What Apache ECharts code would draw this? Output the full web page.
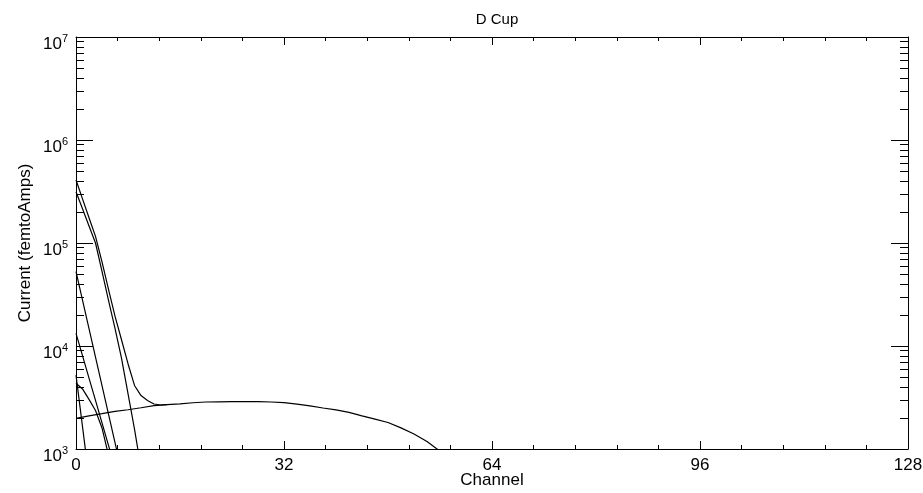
<!DOCTYPE html>
<html>
<head>
<meta charset="utf-8">
<script src="https://cdn.jsdelivr.net/npm/echarts@6/dist/echarts.min.js"></script>
<style>
  html, body { margin: 0; padding: 0; background: #fff; }
  #main { width: 923px; height: 493px; }
</style>
</head>
<body>
<div id="main"></div>
<script>
// x axis ticks
var channelTicks = [0, 32, 64, 96, 128];

// steep components, one value per channel starting at channel 0
var totalValues = [409000, 268000, 176000, 116000, 65600, 35400, 19500, 11500, 6730, 4140, 3300, 2960, 2735, 2673, 2692];
var mainValues = [315000, 215000, 146000, 100000, 53100, 27700, 14800, 7640, 3450, 1560, 650];
var secondValues = [52600, 27900, 14760, 7800, 4130, 2185, 1156, 611];
var thirdValues = [13280, 8050, 4880, 2960, 1792, 1086, 658];
var fourthValues = [4345, 3830, 3030, 2366, 1600, 870];
var fifthValues = [5220, 1647, 523];

// broad component, read every 2 channels
var broadChannels = [0, 2, 4, 6, 8, 10, 12, 14, 16, 18, 20, 22, 24, 26, 28, 30, 32, 34, 36, 38, 40, 42, 44, 46, 48, 50, 52, 54, 56];
var broadValues = [1987, 2095, 2203, 2323, 2404, 2514, 2638, 2692, 2748, 2812, 2860, 2873, 2878, 2878, 2878, 2860, 2818, 2723, 2624, 2500, 2399, 2265, 2096, 1950, 1807, 1603, 1399, 1180, 952];

var FONT = 'Liberation Sans';
var FONT_SIZE = 17;

// values are indexed by channel
function byChannel(values) {
    return values.map(function (v, i) { return [i, v]; });
}

function pairs(xs, ys) {
    return xs.map(function (x, i) { return [x, ys[i]]; });
}

function lineSeries(data) {
    return {
        type: 'line',
        data: data,
        showSymbol: false,
        symbol: 'none',
        clip: true,
        lineStyle: {color: '#000', width: 1.2},
        animation: false
    };
}

function xAxis(pos, showLabel) {
    return {
        type: 'value',
        position: pos,
        min: channelTicks[0],
        max: channelTicks[channelTicks.length - 1],
        interval: channelTicks[1] - channelTicks[0],
        name: showLabel ? 'Channel' : '',
        nameLocation: 'middle',
        nameGap: 23,
        nameMoveOverlap: false,
        nameTextStyle: {color: '#000', fontFamily: FONT, fontSize: FONT_SIZE},
        axisLine: {show: true, onZero: false, lineStyle: {color: '#000', width: 1}},
        axisTick: {show: true, inside: true, length: 8, lineStyle: {color: '#000'}},
        minorTick: {show: true, splitNumber: 5, length: 4, lineStyle: {color: '#000'}},
        axisLabel: {show: showLabel, color: '#000', fontFamily: FONT, fontSize: FONT_SIZE, margin: 8},
        splitLine: {show: false}
    };
}

function yAxis(pos, showLabel) {
    return {
        type: 'log',
        logBase: 10,
        position: pos,
        min: 1e3,
        max: 1e7,
        splitNumber: 4,
        name: showLabel ? 'Current (femtoAmps)' : '',
        nameLocation: 'middle',
        nameRotate: 90,
        nameGap: 42,
        nameMoveOverlap: false,
        nameTextStyle: {color: '#000', fontFamily: FONT, fontSize: FONT_SIZE},
        axisLine: {show: true, onZero: false, lineStyle: {color: '#000', width: 1}},
        axisTick: {show: true, inside: true, length: 17, lineStyle: {color: '#000'}},
        minorTick: {show: true, splitNumber: 9, length: 8, lineStyle: {color: '#000'}},
        axisLabel: {
            show: showLabel,
            margin: 8,
            padding: [12, 0, 0, 0],
            formatter: function (v) {
                return '{b|10}{s|' + Math.round(Math.log10(v)) + '}';
            },
            rich: {
                b: {color: '#000', fontFamily: FONT, fontSize: FONT_SIZE, lineHeight: 19, verticalAlign: 'bottom'},
                s: {color: '#000', fontFamily: FONT, fontSize: 11, lineHeight: 19, verticalAlign: 'top'}
            }
        },
        splitLine: {show: false}
    };
}

var option = {
    backgroundColor: '#fff',
    animation: false,
    title: {
        text: 'D Cup',
        left: 492,
        top: 7,
        textAlign: 'center',
        textStyle: {color: '#000', fontFamily: FONT, fontSize: 15, fontWeight: 'normal'}
    },
    grid: {left: 76, right: 15, top: 37, bottom: 44, containLabel: false, outerBoundsMode: 'none'},
    xAxis: [xAxis('bottom', true), xAxis('top', false)],
    yAxis: [yAxis('left', true), yAxis('right', false)],
    series: [
        lineSeries(pairs(broadChannels, broadValues)),
        lineSeries(byChannel(totalValues)),
        lineSeries(byChannel(mainValues)),
        lineSeries(byChannel(secondValues)),
        lineSeries(byChannel(thirdValues)),
        lineSeries(byChannel(fourthValues)),
        lineSeries(byChannel(fifthValues))
    ]
};

var myChart = echarts.init(document.getElementById('main'));
myChart.setOption(option);
</script>
</body>
</html>
